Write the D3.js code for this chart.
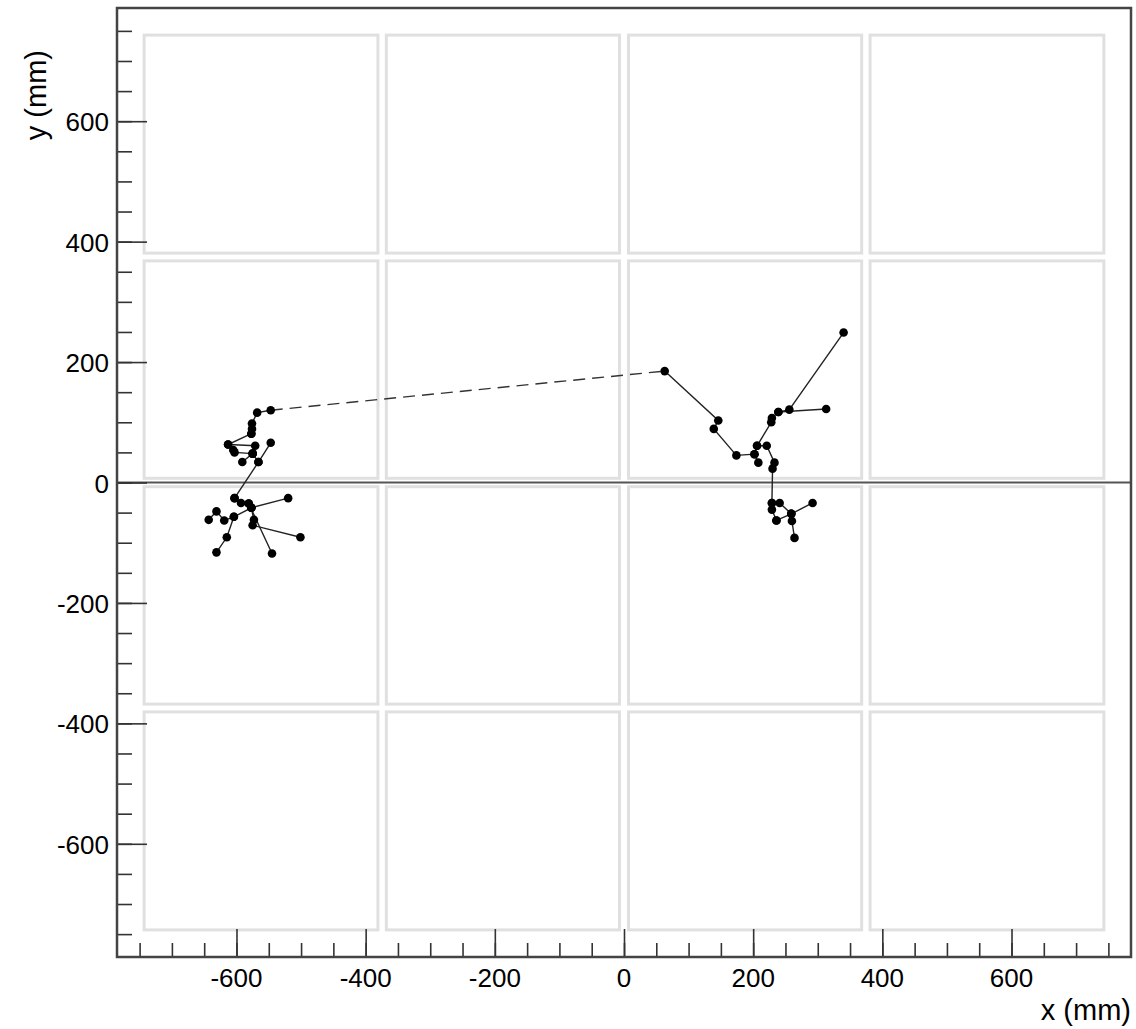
<!DOCTYPE html>
<html>
<head>
<meta charset="utf-8">
<script src="https://cdn.jsdelivr.net/npm/d3@7"></script>
<style>
  body { margin: 0; background: #fff; }
  text { font-family: "Liberation Sans", Arial, sans-serif; fill: #000; }
</style>
</head>
<body>
<script>
// hit map: two clusters of reconstructed points, joined by a dashed link

xTicks = [-600, -400, -200, 0, 200, 400, 600];
yTicks = [-600, -400, -200, 0, 200, 400, 600];
// module outlines (mm), same edges in x and y
moduleEdges = [[-743, -381], [-368, -7], [7, 368], [381, 743]];

// left cluster, drawn as polylines
leftTracks = [
  [[-547, 120], [-568, 116], [-576, 98], [-576, 89], [-577, 81]],
  [[-577, 81], [-613, 63], [-605, 54], [-603, 50], [-575, 48]],
  [[-613, 63], [-571, 61], [-575, 48], [-591, 34]],
  [[-575, 48], [-566, 34]],
  [[-547, 66], [-566, 34], [-603, -26]],
  [[-603, -26], [-593, -34], [-581, -35], [-577, -42], [-520, -26]],
  [[-577, -42], [-573, -62], [-575, -71], [-501, -91]],
  [[-581, -35], [-545, -118]],
  [[-643, -62], [-631, -48], [-619, -63], [-604, -57], [-577, -42]],
  [[-604, -57], [-615, -91], [-631, -116]]
];
// right cluster
rightTracks = [
  [[63, 185], [146, 103], [139, 89], [174, 45], [202, 47], [206, 61],
   [228, 100], [229, 107], [239, 117], [256, 121], [340, 249]],
  [[239, 117], [313, 122]],
  [[202, 47], [208, 33]],
  [[206, 61], [221, 61], [233, 33], [230, 23], [229, -34], [229, -45], [236, -63]],
  [[229, -34], [241, -34], [259, -52], [292, -34]],
  [[259, -52], [260, -64], [264, -92]],
  [[236, -63], [259, -52]]
];
// dashed link between the two clusters
linkLine = [[-547, 120], [63, 185]];

width = 1136;
height = 1029;
svg = d3.select('body').append('svg')
  .attr('width', width)
  .attr('height', height);

xmin = -785, xmax = 785;
ymin = -788, ymax = 788;
L = 117, R = 1131, T = 8, B = 957;
xScale = d3.scaleLinear().domain([xmin, xmax]).range([L, R]);
yScale = d3.scaleLinear().domain([ymin, ymax]).range([B, T]);
line = d3.line().x(d => xScale(d[0])).y(d => yScale(d[1]));

// module boxes
boxes = [];
moduleEdges.forEach(ex => moduleEdges.forEach(ey => boxes.push([ex, ey])));
svg.append('g').selectAll('rect')
  .data(boxes)
  .enter().append('rect')
  .attr('x', d => xScale(d[0][0]))
  .attr('y', d => yScale(d[1][1]))
  .attr('width', d => xScale(d[0][1]) - xScale(d[0][0]))
  .attr('height', d => yScale(d[1][0]) - yScale(d[1][1]))
  .attr('fill', 'none')
  .attr('stroke', '#e0e0e0')
  .attr('stroke-width', 3);

// y = 0 line
svg.append('line')
  .attr('x1', L).attr('x2', R)
  .attr('y1', yScale(0)).attr('y2', yScale(0))
  .attr('stroke', '#555')
  .attr('stroke-width', 2);

// axes with ROOT-like ticks (major inside 28px, minor 14px)
xAxisMinor = d3.axisTop(xScale).tickValues(d3.range(-750, 751, 50)).tickSize(14).tickFormat('');
xAxisMajor = d3.axisTop(xScale).tickValues(xTicks).tickSize(28).tickFormat('');
yAxisMinor = d3.axisRight(yScale).tickValues(d3.range(-750, 751, 50)).tickSize(15).tickFormat('');
yAxisMajor = d3.axisRight(yScale).tickValues(yTicks).tickSize(30).tickFormat('');

[xAxisMinor, xAxisMajor].forEach(ax => {
  g = svg.append('g').attr('transform', `translate(0,${B})`).call(ax);
  g.select('.domain').remove();
  g.selectAll('line').attr('stroke', '#333').attr('stroke-width', 1.6);
});
[yAxisMinor, yAxisMajor].forEach(ax => {
  g = svg.append('g').attr('transform', `translate(${L},0)`).call(ax);
  g.select('.domain').remove();
  g.selectAll('line').attr('stroke', '#333').attr('stroke-width', 1.6);
});

// tick labels
svg.append('g').selectAll('text')
  .data(xTicks)
  .enter().append('text')
  .attr('x', d => xScale(d))
  .attr('y', 987)
  .attr('text-anchor', 'middle')
  .attr('font-size', 26)
  .text(d => d);
svg.append('g').selectAll('text')
  .data(yTicks)
  .enter().append('text')
  .attr('x', 109)
  .attr('y', d => yScale(d) + 10)
  .attr('text-anchor', 'end')
  .attr('font-size', 26)
  .text(d => d);

// frame
svg.append('rect')
  .attr('x', L).attr('y', T)
  .attr('width', R - L).attr('height', B - T)
  .attr('fill', 'none')
  .attr('stroke', '#444')
  .attr('stroke-width', 2.5);

// titles
svg.append('text')
  .attr('x', 1131).attr('y', 1020)
  .attr('text-anchor', 'end')
  .attr('font-size', 29)
  .text('x (mm)');
svg.append('text')
  .attr('transform', 'translate(46,50) rotate(-90)')
  .attr('text-anchor', 'end')
  .attr('font-size', 29)
  .text('y (mm)');

// dashed link
svg.append('path')
  .attr('d', line(linkLine))
  .attr('fill', 'none')
  .attr('stroke', '#333')
  .attr('stroke-width', 1.4)
  .attr('stroke-dasharray', '12,7');

tracks = leftTracks.concat(rightTracks);
svg.append('g').selectAll('path')
  .data(tracks)
  .enter().append('path')
  .attr('d', line)
  .attr('fill', 'none')
  .attr('stroke', '#222')
  .attr('stroke-width', 1.4);

pts = [];
tracks.forEach(t => t.forEach(p => pts.push(p)));
svg.append('g').selectAll('circle')
  .data(pts)
  .enter().append('circle')
  .attr('cx', d => xScale(d[0]))
  .attr('cy', d => yScale(d[1]))
  .attr('r', 4.3)
  .attr('fill', '#000');
</script>
</body>
</html>
